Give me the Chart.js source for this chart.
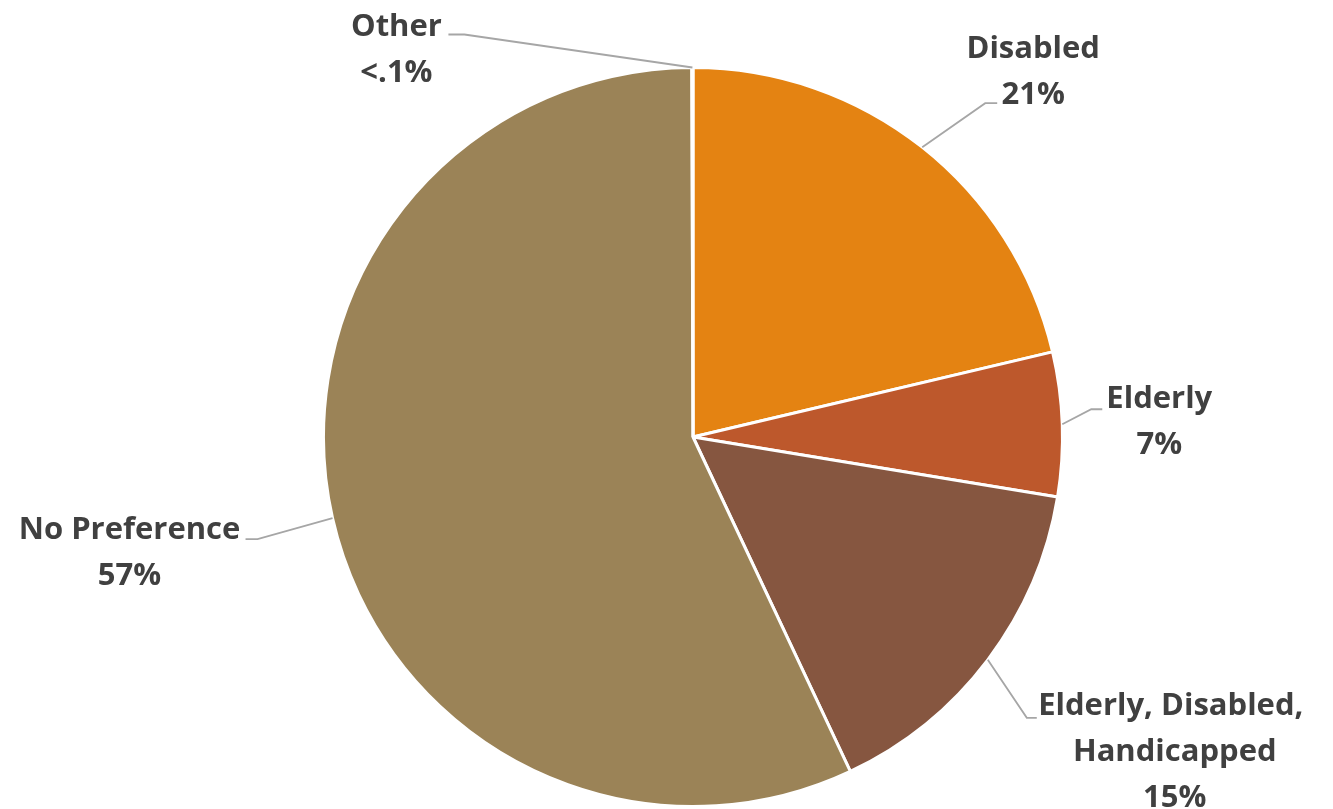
<!DOCTYPE html>
<html>
<head>
<meta charset="utf-8">
<script src="https://cdn.jsdelivr.net/npm/chart.js@4.4.0/dist/chart.umd.min.js"></script>
<style>
    html, body { margin: 0; padding: 0; background: #fff; }
    #wrap { width: 1333px; height: 809px; }
</style>
</head>
<body>
<div id="wrap"><canvas id="pieChart" width="1333" height="809"></canvas></div>
<script>
const categories = ['Disabled', 'Elderly', 'Elderly, Disabled, Handicapped', 'No Preference', 'Other'];
const shares = [21.3, 6.3, 15.4, 56.95, 0.05];
const shareLabels = ['21%', '7%', '15%', '57%', '<.1%'];
const labelLines = [
    ['Disabled'],
    ['Elderly'],
    ['Elderly, Disabled, ', 'Handicapped'],
    ['No Preference'],
    ['Other']
];
const sliceColors = ['#E48312', '#BD582C', '#865640', '#9B8357', '#A5A5A5'];

// leader elbow / end and text anchor, relative to the slice's outer mid point
const labelLayout = [
    { elbow: [63, -44], end: [75, -44], text: [111, -89] },
    { elbow: [29, -15], end: [40, -15], text: [97, -16] },
    { elbow: [39, 58], end: [49, 58], text: [187, 55] },
    { elbow: [-75, 21], end: [-87, 21], text: [-203, 21] },
    { elbow: [-228, -33], end: [-244, -33], text: [-296, -32] }
];

const lineGap = 46;

const leaderLabels = {
    id: 'leaderLabels',
    afterDatasetsDraw(chart) {
        const { ctx } = chart;
        const meta = chart.getDatasetMeta(0);
        ctx.save();
        meta.data.forEach((arc, i) => {
            const { x, y, startAngle, endAngle, outerRadius } = arc.getProps(['x', 'y', 'startAngle', 'endAngle', 'outerRadius'], true);
            const mid = (startAngle + endAngle) / 2;
            const px = x + Math.cos(mid) * outerRadius;
            const py = y + Math.sin(mid) * outerRadius;
            const lay = labelLayout[i];

            ctx.strokeStyle = '#A6A6A6';
            ctx.lineWidth = 1.8;
            ctx.beginPath();
            ctx.moveTo(px, py);
            ctx.lineTo(px + lay.elbow[0], py + lay.elbow[1]);
            ctx.lineTo(px + lay.end[0], py + lay.end[1]);
            ctx.stroke();

            ctx.fillStyle = '#404040';
            ctx.font = 'bold 31px "Open Sans"';
            ctx.textAlign = 'center';
            ctx.textBaseline = 'alphabetic';
            const lines = [...labelLines[i], shareLabels[i]];
            lines.forEach((line, k) => {
                ctx.fillText(line, px + lay.text[0], py + lay.text[1] + k * lineGap);
            });
        });
        ctx.restore();
    }
};

const pieChart = new Chart(document.getElementById('pieChart'), {
    type: 'pie',
    data: {
        labels: categories,
        datasets: [{
            data: shares,
            backgroundColor: sliceColors,
            borderColor: '#ffffff',
            borderWidth: 3
        }]
    },
    options: {
        responsive: false,
        animation: false,
        layout: {
            padding: { top: 66, bottom: 1, left: 200, right: 147 }
        },
        plugins: {
            legend: { display: false },
            tooltip: { enabled: false }
        }
    },
    plugins: [leaderLabels]
});
</script>
</body>
</html>
